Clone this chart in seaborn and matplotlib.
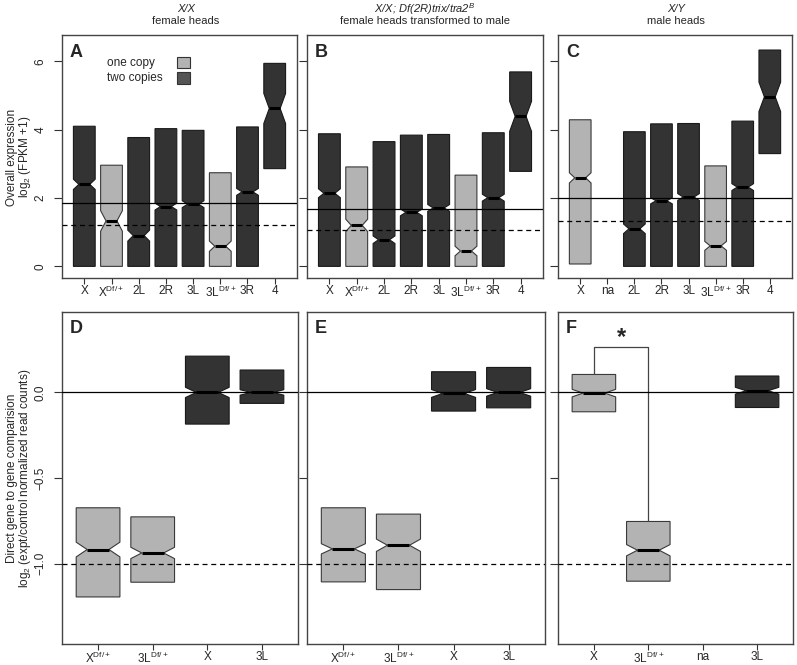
import matplotlib
matplotlib.use("Agg")
import matplotlib.pyplot as plt
from matplotlib.patches import Rectangle
import seaborn as sns


#====================================================================================================
# data
# top row: overall expression, log2(FPKM + 1); boxes drawn q1 / median / q3, notch = half width of CI

labels_A = ["X", r"X$^{\mathregular{Df/+}}$", "2L", "2R", "3L", r"3L$^{\mathregular{Df/+}}$", "3R", "4"]
pos_A    = [1, 2, 3, 4, 5, 6, 7, 8]
copies_A = [2, 1, 2, 2, 2, 1, 2, 2]
q1_A     = [0.00, 0.00, 0.00, 0.00, 0.00, 0.00, 0.00, 2.86]
med_A    = [2.40, 1.33, 0.90, 1.75, 1.82, 0.59, 2.18, 4.62]
q3_A     = [4.10, 2.96, 3.77, 4.03, 3.98, 2.74, 4.08, 5.94]
notch_A  = [0.15, 0.30, 0.16, 0.10, 0.10, 0.15, 0.10, 0.44]
solid_A, dashed_A = 1.85, 1.20

labels_B = labels_A
pos_B    = [1, 2, 3, 4, 5, 6, 7, 8]
copies_B = [2, 1, 2, 2, 2, 1, 2, 2]
q1_B     = [0.00, 0.00, 0.00, 0.00, 0.00, 0.00, 0.00, 2.78]
med_B    = [2.14, 1.20, 0.78, 1.58, 1.71, 0.45, 2.01, 4.39]
q3_B     = [3.88, 2.91, 3.65, 3.84, 3.86, 2.67, 3.91, 5.69]
notch_B  = [0.13, 0.18, 0.11, 0.10, 0.10, 0.14, 0.10, 0.44]
solid_B, dashed_B = 1.68, 1.07

labels_C = ["X", "na", "2L", "2R", "3L", r"3L$^{\mathregular{Df/+}}$", "3R", "4"]
pos_C    = [1, 3, 4, 5, 6, 7, 8]          # "na" has no box
copies_C = [1, 2, 2, 2, 1, 2, 2]
q1_C     = [0.07, 0.00, 0.00, 0.00, 0.00, 0.00, 3.30]
med_C    = [2.59, 1.10, 1.92, 2.03, 0.60, 2.32, 4.96]
q3_C     = [4.29, 3.94, 4.17, 4.18, 2.94, 4.25, 6.33]
notch_C  = [0.15, 0.14, 0.09, 0.10, 0.13, 0.10, 0.43]
solid_C, dashed_C = 2.00, 1.33

# bottom row: direct gene to gene comparison, log2(expt/control)
labels_D = [r"X$^{\mathregular{Df/+}}$", r"3L$^{\mathregular{Df/+}}$", "X", "3L"]
pos_D    = [1, 2, 3, 4]
copies_D = [1, 1, 2, 2]
q1_D     = [-1.195, -1.109, -0.185, -0.064]
med_D    = [-0.918, -0.938, 0.000, 0.000]
q3_D     = [-0.674, -0.727, 0.212, 0.131]
notch_D  = [0.043, 0.033, 0.030, 0.016]

labels_E = labels_D
pos_E    = [1, 2, 3, 4]
copies_E = [1, 1, 2, 2]
q1_E     = [-1.107, -1.152, -0.109, -0.090]
med_E    = [-0.914, -0.893, -0.006, 0.000]
q3_E     = [-0.674, -0.711, 0.121, 0.146]
notch_E  = [0.030, 0.036, 0.023, 0.022]

labels_F = ["X", r"3L$^{\mathregular{Df/+}}$", "na", "3L"]
pos_F    = [1, 2, 4]                      # "na" has no box
copies_F = [1, 1, 2]
q1_F     = [-0.113, -1.103, -0.088]
med_F    = [-0.004, -0.922, 0.010]
q3_F     = [0.105, -0.754, 0.096]
notch_F  = [0.022, 0.033, 0.020]

top_ticks    = [0, 2, 4, 6]
bottom_ticks = [-1.0, -0.5, 0.0]
bottom_tick_labels = ["\u22121.0", "\u22120.5", "0.0"]

col_titles = [("X/X", "female heads"),
              (r"X/X; Df(2R)trix/tra2$^{\mathit{B}}$", "female heads transformed to male"),
              ("X/Y", "male heads")]


#====================================================================================================
sns.set_style("ticks")
plt.rcParams["font.family"] = ["Liberation Sans", "DejaVu Sans"]
plt.rcParams["mathtext.fontset"] = "custom"
plt.rcParams["mathtext.rm"] = "Liberation Sans"
plt.rcParams["mathtext.it"] = "Liberation Sans:italic"
plt.rcParams["axes.edgecolor"] = "#444444"
plt.rcParams["axes.linewidth"] = 1.0

FS = 8.5
LIGHT, DARK = "#b3b3b3", "#333333"

W, H = 797, 665
fig = plt.figure(figsize=(W / 100, H / 100), dpi=100)


def add_axes(left, top, right, bottom):
    return fig.add_axes([left / W, 1 - bottom / H, (right - left) / W, (bottom - top) / H])


def draw_boxes(ax, pos, q1, med, q3, notch, copies):
    stats = []
    for a, m, b, h in zip(q1, med, q3, notch):
        stats.append(dict(med=m, q1=a, q3=b, whislo=a, whishi=b,
                          cilo=m - h, cihi=m + h, fliers=[]))
    art = ax.bxp(stats, positions=pos, widths=0.8, shownotches=True,
                 showcaps=False, showfliers=False, patch_artist=True,
                 manage_ticks=False,
                 boxprops=dict(linewidth=0.8),
                 whiskerprops=dict(linewidth=0),
                 medianprops=dict(color="black", linewidth=2.2, solid_capstyle="butt"))
    for patch, c in zip(art["boxes"], copies):
        if c == 1:
            patch.set_facecolor(LIGHT)
            patch.set_edgecolor("#3a3a3a")
        else:
            patch.set_facecolor(DARK)
            patch.set_edgecolor("#1a1a1a")


def style_axes(ax, n, labels, yticks, ylim, show_ylabels, ytl=None):
    ax.set_xlim(0.5 - 0.04 * n, n + 0.5 + 0.04 * n)
    ax.set_ylim(*ylim)
    ax.set_xticks(range(1, n + 1))
    ax.set_xticklabels(labels, fontsize=FS)
    ax.set_yticks(yticks)
    if show_ylabels:
        ax.set_yticklabels(ytl if ytl else [str(t) for t in yticks], fontsize=FS,
                           rotation=90, va="center")
    else:
        ax.set_yticklabels([])
    ax.tick_params(axis="x", length=4, width=0.8, pad=1, color="#333333")
    ax.tick_params(axis="y", length=6, width=0.8, pad=5, color="#333333")
    for s in ax.spines.values():
        s.set_visible(True)


#----------------------------------------------------------------------------------------------------
top_cols    = [(62, 297), (307, 543), (558, 792)]
bottom_cols = [(62, 298), (307, 545), (558, 793)]
top_ylim    = (-0.34, 6.77)
bottom_ylim = (-1.47, 0.47)

top_panels = [
    ("A", labels_A, pos_A, q1_A, med_A, q3_A, notch_A, copies_A, solid_A, dashed_A),
    ("B", labels_B, pos_B, q1_B, med_B, q3_B, notch_B, copies_B, solid_B, dashed_B),
    ("C", labels_C, pos_C, q1_C, med_C, q3_C, notch_C, copies_C, solid_C, dashed_C),
]
bottom_panels = [
    ("D", labels_D, pos_D, q1_D, med_D, q3_D, notch_D, copies_D),
    ("E", labels_E, pos_E, q1_E, med_E, q3_E, notch_E, copies_E),
    ("F", labels_F, pos_F, q1_F, med_F, q3_F, notch_F, copies_F),
]

axes_top = []
for i, (letter, labs, pos, q1, med, q3, nt, cp, sl, dl) in enumerate(top_panels):
    ax = add_axes(top_cols[i][0], 35, top_cols[i][1], 278)
    ax.axhline(sl, color="black", linewidth=0.9, zorder=3)
    ax.axhline(dl, color="black", linewidth=0.9, linestyle=(0, (4, 3)), zorder=3)
    draw_boxes(ax, pos, q1, med, q3, nt, cp)
    style_axes(ax, 8, labs, top_ticks, top_ylim, i == 0)
    ax.text(0.034, 0.965, letter, transform=ax.transAxes, fontsize=13,
            fontweight="bold", ha="left", va="top")
    axes_top.append(ax)

for i, (letter, labs, pos, q1, med, q3, nt, cp) in enumerate(bottom_panels):
    ax = add_axes(bottom_cols[i][0], 312, bottom_cols[i][1], 644)
    ax.axhline(0.0, color="black", linewidth=0.9, zorder=3)
    ax.axhline(-1.0, color="black", linewidth=0.9, linestyle=(0, (4, 3)), zorder=3)
    draw_boxes(ax, pos, q1, med, q3, nt, cp)
    style_axes(ax, 4, labs, bottom_ticks, bottom_ylim, i == 0, bottom_tick_labels)
    ax.text(0.034, 0.975, letter, transform=ax.transAxes, fontsize=13,
            fontweight="bold", ha="left", va="top")
    if letter == "F":
        # significance bracket between X and 3L Df/+
        ax.plot([1, 1, 2, 2], [q3_F[0], 0.263, 0.263, q3_F[1]],
                color="#444444", linewidth=0.9)
        ax.text(1.5, 0.255, "*", fontsize=17, fontweight="bold",
                ha="center", va="bottom")

#----------------------------------------------------------------------------------------------------
# legend in panel A
axA = axes_top[0]
for k, (txt, col) in enumerate([("one copy", LIGHT), ("two copies", DARK)]):
    y = 0.886 - k * 0.063
    axA.text(0.191, y, txt, transform=axA.transAxes, fontsize=FS, ha="left", va="center")
    axA.add_patch(Rectangle((0.489, y - 0.023), 0.055, 0.046, transform=axA.transAxes,
                            facecolor=col if k == 0 else "#555555",
                            edgecolor="#333333", linewidth=0.8))

# column titles
for (l1, l2), cx in zip(col_titles, [186, 425, 676]):
    fig.text(cx / W, 1 - 9 / H, l1, fontsize=8, style="italic", ha="center", va="center")
    fig.text(cx / W, 1 - 21 / H, l2, fontsize=8, ha="center", va="center")

# y labels, centred on each row of panels
fig.text(12 / W, 1 - 157 / H, "Overall expression", fontsize=FS, rotation=90,
         ha="center", va="center")
fig.text(25 / W, 1 - 157 / H, r"log$_2$ (FPKM +1)", fontsize=FS, rotation=90,
         ha="center", va="center")
fig.text(12 / W, 1 - 478 / H, "Direct gene to gene comparision", fontsize=FS, rotation=90,
         ha="center", va="center")
fig.text(25 / W, 1 - 478 / H, r"log$_2$ (expt/control normalized read counts)", fontsize=FS,
         rotation=90, ha="center", va="center")

plt.savefig("out.png", dpi=100)
